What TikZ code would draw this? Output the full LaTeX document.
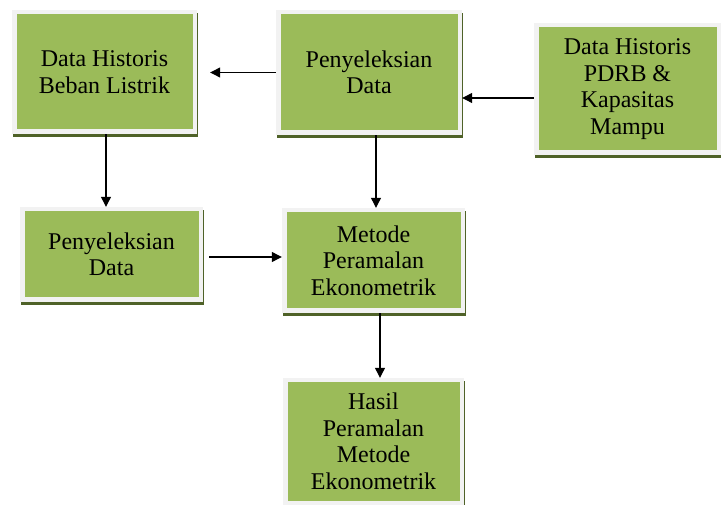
\documentclass[tikz,border=0pt]{standalone}
\usepackage{fontspec}
\setmainfont{Liberation Serif}
\usepackage{xcolor}
\usepackage{tikz}
\usetikzlibrary{shapes,positioning,arrows.meta,shadows}

\definecolor{hijau}{HTML}{9BBB59}
\definecolor{bayang}{HTML}{4F6228}
\definecolor{tepi}{HTML}{F2F2F2}

\tikzset{
  kotak/.style={fill=tepi, align=center, inner sep=2pt,
    font=\fontsize{24}{26.5}\selectfont,
    drop shadow={fill=bayang, opacity=1, shadow xshift=1pt, shadow yshift=-3pt},
    path picture={\fill[hijau] ([shift={(4.5pt,-4.5pt)}]path picture bounding box.north west)
      rectangle ([shift={(-4.5pt,4.5pt)}]path picture bounding box.south east);}},
  panah/.style={line width=1.2pt, -{Triangle[length=10pt,width=10pt]}}
}

\begin{document}
\begin{tikzpicture}[x=1pt,y=-1pt]
                \useasboundingbox (0,0) rectangle (721,505);

                \node[kotak, minimum width=185pt, minimum height=124pt] (hisbeban) at (104.5,72) {Data Historis\\Beban Listrik};
                \node[kotak, minimum width=186pt, minimum height=125pt] (seleksi1) at (369,72.5) {Penyeleksian\\Data};
                \node[kotak, minimum width=187pt, minimum height=132pt] (hispdrb) at (627.5,89) {Data Historis\\PDRB \&\\Kapasitas\\Mampu};

                \node[kotak, minimum width=183pt, minimum height=95pt] (seleksi2) at (111.5,254.5) {Penyeleksian\\Data};
                \node[kotak, minimum width=183pt, minimum height=105pt] (metode) at (373.5,260.5) {Metode\\Peramalan\\Ekonometrik};
                \node[kotak, minimum width=181pt, minimum height=127pt] (hasil) at (373.5,441.5) {Hasil\\Peramalan\\Metode\\Ekonometrik};

                \draw[panah, shorten >=13pt] (seleksi1.west) coordinate (p0) -- (p0 -| hisbeban.east);
                \draw[panah] ([yshift=-9pt]hispdrb.west) coordinate (p1) -- (p1 -| seleksi1.east);
                \draw[panah] ([xshift=1.5pt]hisbeban.south) coordinate (p2) -- (p2 |- seleksi2.north);
                \draw[panah] ([xshift=7pt]seleksi1.south) coordinate (p3) -- (p3 |- metode.north);
                \draw[panah, shorten <=6pt] (seleksi2.east |- 0,257) -- (metode.west |- 0,257);
                \draw[panah] ([xshift=6.5pt]metode.south) coordinate (p4) -- (p4 |- hasil.north);

\end{tikzpicture}
\end{document}
